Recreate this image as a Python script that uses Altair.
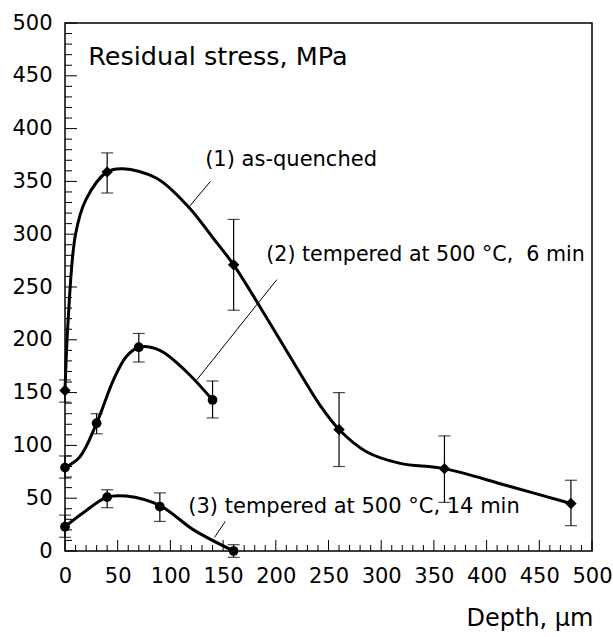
import altair as alt
import pandas as pd

FONT = "DejaVu Sans"
W, H = 527, 528

# ---- measured data (markers with error bars) ----
s1_x = [0, 40, 160, 260, 360, 480]
s1_y = [152, 359, 271, 115, 78, 45]
s1_lo = [141, 339, 228, 80, 46, 24]
s1_hi = [162, 377, 314, 150, 109, 67]

s2_x = [0, 30, 70, 140]
s2_y = [79, 121, 193, 143]
s2_lo = [69, 111, 179, 126]
s2_hi = [90, 130, 206, 161]

s3_x = [0, 40, 90, 160]
s3_y = [23, 51, 42, 0]
s3_lo = [13, 41, 28, -6]
s3_hi = [34, 58, 55, 6]

# ---- fitted curves ----
c1_x = [0, 3, 10, 20, 40, 55, 87, 117, 140, 160, 190, 222, 242, 260, 286, 318, 360, 419, 480]
c1_y = [152, 219, 300, 333, 359, 362, 353, 326, 297, 271, 223, 170, 138, 115, 94, 83, 78, 62, 45]
c2_x = [0, 14, 30, 46, 58, 70, 90, 115, 140]
c2_y = [79, 89, 121, 162, 184, 193, 190, 170, 143]
c3_x = [0, 17, 40, 58, 90, 122, 160]
c3_y = [23, 36, 51, 52, 43, 20, 0]

# ---- axis ticks ----
tick_labels = [0, 50, 100, 150, 200, 250, 300, 350, 400, 450, 500]
minor_ticks = [v for v in range(0, 501, 10) if v % 50 != 0]

# ---- annotations ----
ann_text = ["Residual stress, MPa", "(1) as-quenched",
            "(2) tempered at 500 \u00b0C,\u00a0 6 min", "(3) tempered at 500 \u00b0C, 14 min"]
ann_x = [22, 133, 191, 117]
ann_y = [460, 365, 275, 36]
ann_size = [25.5, 21, 20.6, 21]

lead_x = [138, 201, 152]
lead_y = [350, 257, 28]
lead_x2 = [117, 125, 142]
lead_y2 = [325, 162, 13]

scale_x = alt.Scale(domain=[0, 500], nice=False, zero=False)
scale_y = alt.Scale(domain=[0, 500], nice=False, zero=False)

x_axis = alt.Axis(values=tick_labels, labelFont=FONT, labelFontSize=21, labelColor="black",
                  ticks=False, tickSize=0, domain=False, grid=False, labelPadding=14,
                  labelOverlap=False, labelBound=False, labelFlush=False,
                  title="Depth, \u03bcm", titleFont=FONT, titleFontSize=24,
                  titleFontWeight="normal", titleColor="black", titleX=528, titleY=74,
                  titleAlign="right", titleBaseline="alphabetic", titleAnchor="end")
y_axis = alt.Axis(values=tick_labels, labelFont=FONT, labelFontSize=21, labelColor="black",
                  ticks=False, tickSize=0, domain=False, grid=False, labelPadding=13,
                  labelOverlap=False, labelBound=False, labelFlush=False, title=None)

def X(field="x"):
    return alt.X(f"{field}:Q", scale=scale_x, axis=x_axis)

def Y(field="y"):
    return alt.Y(f"{field}:Q", scale=scale_y, axis=y_axis)

# tick marks drawn inward
xmaj = alt.Chart(pd.DataFrame({"x": tick_labels})).mark_rule(color="black", strokeWidth=1).encode(
    x=X(), y=alt.value(H), y2=alt.value(H - 11))
xmin = alt.Chart(pd.DataFrame({"x": minor_ticks})).mark_rule(color="black", strokeWidth=1).encode(
    x=X(), y=alt.value(H), y2=alt.value(H - 6))
ymaj = alt.Chart(pd.DataFrame({"y": tick_labels})).mark_rule(color="black", strokeWidth=1).encode(
    y=Y(), x=alt.value(0), x2=alt.value(12))
ymin = alt.Chart(pd.DataFrame({"y": minor_ticks})).mark_rule(color="black", strokeWidth=1).encode(
    y=Y(), x=alt.value(0), x2=alt.value(7))

layers = [xmaj, xmin, ymaj, ymin]

for cx, cy in [(c1_x, c1_y), (c2_x, c2_y), (c3_x, c3_y)]:
    layers.append(alt.Chart(pd.DataFrame({"x": cx, "y": cy})).mark_line(
        color="black", strokeWidth=3, interpolate="catmull-rom").encode(x=X(), y=Y()))

series = [(s1_x, s1_y, s1_lo, s1_hi, "diamond", 130),
          (s2_x, s2_y, s2_lo, s2_hi, "circle", 95),
          (s3_x, s3_y, s3_lo, s3_hi, "circle", 95)]
for sx, sy, lo, hi, shape, size in series:
    df = pd.DataFrame({"x": sx, "y": sy, "lo": lo, "hi": hi})
    base = alt.Chart(df)
    layers.append(base.mark_rule(color="black", strokeWidth=1.2).encode(x=X(), y=Y("lo"), y2="hi:Q"))
    layers.append(base.mark_tick(color="black", orient="horizontal", size=12, thickness=1.2).encode(x=X(), y=Y("lo")))
    layers.append(base.mark_tick(color="black", orient="horizontal", size=12, thickness=1.2).encode(x=X(), y=Y("hi")))
    layers.append(base.mark_point(shape=shape, size=size, filled=True, color="black", opacity=1).encode(x=X(), y=Y()))

lead_df = pd.DataFrame({"x": lead_x, "y": lead_y, "x2": lead_x2, "y2": lead_y2})
layers.append(alt.Chart(lead_df).mark_rule(color="black", strokeWidth=1).encode(
    x=X(), y=Y(), x2="x2:Q", y2="y2:Q"))

ann_df = pd.DataFrame({"x": ann_x, "y": ann_y, "t": ann_text, "s": ann_size})
for i in range(len(ann_text)):
    layers.append(alt.Chart(ann_df.iloc[[i]]).mark_text(
        font=FONT, fontSize=ann_size[i], align="left", baseline="alphabetic", color="black").encode(
        x=X(), y=Y(), text="t:N"))

chart = alt.layer(*layers).properties(
    width=W, height=H,
    autosize=alt.AutoSizeParams(type="none"),
    padding={"left": 65, "top": 23, "right": 21, "bottom": 86},
    background="white",
).configure_view(stroke="black", strokeWidth=1.5)

chart.save("out.html", embed_options={"renderer": "svg", "actions": False})
